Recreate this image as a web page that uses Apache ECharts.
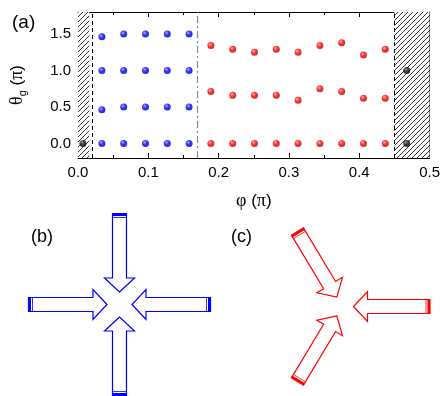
<!DOCTYPE html>
<html>
<head>
<meta charset="utf-8">
<script src="https://cdn.jsdelivr.net/npm/echarts@6/dist/echarts.min.js"></script>
<style>
html, body { margin: 0; padding: 0; background: #fff; }
#chart { width: 443px; height: 396px; }
</style>
</head>
<body>
<div id="chart"></div>
<script>
// panel (a): phi positions (units of pi)
const blueX = [0.034, 0.065, 0.096, 0.127, 0.158];
const redX = [0.189, 0.22, 0.251, 0.282, 0.313, 0.344, 0.375, 0.406, 0.437];
// theta_g rows (units of pi)
const blueRows = [
  [1.46, 1.5, 1.5, 1.5, 1.5],
  [1.0, 1.0, 1.0, 1.0, 1.0],
  [0.46, 0.5, 0.5, 0.5, 0.5],
  [0.0, 0.0, 0.0, 0.0, 0.0]
];
const redRows = [
  [1.34, 1.29, 1.25, 1.29, 1.25, 1.34, 1.38, 1.21, 1.29],
  [0.71, 0.66, 0.66, 0.66, 0.59, 0.75, 0.71, 0.62, 0.62],
  [0.0, 0.0, 0.0, 0.0, 0.0, 0.0, 0.0, 0.0, 0.0]
];
const blackX = [0.007, 0.4675, 0.4675];
const blackY = [0.0, 0.0, 1.0];

// excluded (hatched) ranges and boundary lines
const hatchRanges = [[0, 0.016], [0.45, 0.5]];
const dashedAt = [0.016, 0.45];
const dashDotAt = 0.175;

// tick labels
const yTicks = [0, 0.5, 1.0, 1.5];
const yMinor = [0.25, 0.75, 1.25, 1.75];

// panels (b) and (c): directions the arrows come from (degrees, screen)
const bArrowDirs = [-90, 180, 0, 90];
const cArrowDirs = [0, -121, 121];

function rows(xs, ys) {
  const out = [];
  ys.forEach(r => r.forEach((y, i) => out.push([xs[i], y])));
  return out;
}

function ball(c0, c1, c2) {
  return {
    type: 'radial', x: 0.38, y: 0.35, r: 0.7,
    colorStops: [{ offset: 0, color: c0 }, { offset: 0.45, color: c1 }, { offset: 1, color: c2 }]
  };
}

function hatchCanvas() {
  const s = 5, c = document.createElement('canvas');
  c.width = s; c.height = s;
  const g = c.getContext('2d');
  g.fillStyle = '#fff'; g.fillRect(0, 0, s, s);
  g.strokeStyle = '#000'; g.lineWidth = 0.8;
  g.beginPath();
  g.moveTo(-1, s + 1); g.lineTo(s + 1, -1);
  g.moveTo(-1, 1); g.lineTo(1, -1);
  g.moveTo(s - 1, s + 1); g.lineTo(s + 1, s - 1);
  g.stroke();
  return c;
}

function arrow(cx, cy, deg, color, tip, tail) {
  const a = deg * Math.PI / 180, ux = Math.cos(a), uy = Math.sin(a), vx = -uy, vy = ux;
  const P = (s, w) => [cx + ux * s + vx * w, cy + uy * s + vy * w];
  const head = tip + 14;
  return [
    { type: 'polygon', shape: { points: [P(tip, 0), P(head, 15), P(head, 7), P(tail, 7), P(tail, -7), P(head, -7), P(head, -15)] },
      style: { fill: '#fff', stroke: color, lineWidth: 1.2 } },
    { type: 'polygon', shape: { points: [P(tail, 7.5), P(tail, -7.5), P(tail - 2.5, -7.5), P(tail - 2.5, 7.5)] },
      style: { fill: color } },
    { type: 'polyline', shape: { points: [P(tail - 4, 7), P(tail - 4, -7)] },
      style: { stroke: color, lineWidth: 0.8 } }
  ];
}

const font = 'Liberation Sans';
const serif = 'Liberation Serif';
const hatch = { image: hatchCanvas(), repeat: 'repeat' };

let graphics = [
  { type: 'text', left: 12, top: 13, style: { text: '(a)', font: '19px ' + font, fill: '#000' } },
  { type: 'text', left: 31, top: 228, style: { text: '(b)', font: '18px ' + font, fill: '#000' } },
  { type: 'text', left: 231, top: 228, style: { text: '(c)', font: '18px ' + font, fill: '#000' } }
];
bArrowDirs.forEach(d => { graphics = graphics.concat(arrow(119.5, 304.5, d, '#0000ff', 12.5, 91)); });
cArrowDirs.forEach(d => { graphics = graphics.concat(arrow(342.5, 306.5, d, '#ff0000', 11, 87.5)); });

const xBase = {
  type: 'value', min: 0, max: 0.5, interval: 0.1,
  axisLine: { show: true, onZero: false, lineStyle: { color: '#000', width: 1 } },
  axisTick: { show: true, inside: true, length: 5, lineStyle: { color: '#000' } },
  minorTick: { show: true, splitNumber: 2, length: 3, lineStyle: { color: '#000' } },
  splitLine: { show: false }
};
function yAxisOf(pos, ticks, len, labels) {
  return {
    type: 'value', position: pos, min: -0.2, max: 1.8,
    axisLine: { show: labels !== null, onZero: false, lineStyle: { color: '#000', width: 1 } },
    axisTick: { show: true, inside: true, length: len, customValues: ticks, lineStyle: { color: '#000' } },
    axisLabel: labels ? { show: true, customValues: labels, formatter: v => v.toFixed(1), color: '#000', fontFamily: font, fontSize: 15, margin: 7 } : { show: false },
    splitLine: { show: false }
  };
}

const nameRich = {
  s: { fontFamily: font, fontSize: 17, lineHeight: 22, color: '#000' },
  g: { fontFamily: serif, fontSize: 18, lineHeight: 22, color: '#000' },
  b: { fontFamily: font, fontSize: 11, lineHeight: 11, verticalAlign: 'bottom', color: '#000' }
};

const option = {
  animation: false,
  backgroundColor: '#fff',
  grid: { left: 76, right: 13, top: 12, bottom: 238 },
  xAxis: [
    Object.assign({}, xBase, {
      position: 'bottom',
      name: '{g|φ}{s| (}{g|π}{s|)}', nameLocation: 'middle', nameGap: 32,
      nameTextStyle: { color: '#000', rich: nameRich },
      axisLabel: { color: '#000', fontFamily: font, fontSize: 15, margin: 7, formatter: v => v.toFixed(1) }
    }),
    Object.assign({}, xBase, { position: 'top', axisLabel: { show: false } })
  ],
  yAxis: [
    Object.assign(yAxisOf('left', yTicks, 5, yTicks), {
      name: '{g|θ}{b|g}{s| (}{g|π}{s|)}', nameLocation: 'middle', nameGap: 50, nameRotate: 90,
      nameTextStyle: { color: '#000', rich: nameRich }
    }),
    yAxisOf('left', yMinor, 3, null),
    yAxisOf('right', yTicks, 5, false),
    yAxisOf('right', yMinor, 3, null)
  ],
  series: [
    {
      type: 'scatter', data: [], z: 1, silent: true,
      markArea: {
        silent: true,
        itemStyle: { color: hatch, borderWidth: 0 },
        data: hatchRanges.map(r => [{ xAxis: r[0] }, { xAxis: r[1] }])
      },
      markLine: {
        silent: true, symbol: ['none', 'none'], label: { show: false },
        data: dashedAt.map(x => ({ xAxis: x, lineStyle: { color: '#000', type: [4, 3], width: 1 } }))
          .concat([{ xAxis: dashDotAt, lineStyle: { color: '#888', type: [7, 3, 2, 3], width: 1.2 } }])
      }
    },
    { type: 'scatter', z: 3, symbolSize: 7, data: rows(blueX, blueRows),
      itemStyle: { color: ball('#9a9aff', '#0000ff', '#0000b0') } },
    { type: 'scatter', z: 3, symbolSize: 7, data: rows(redX, redRows),
      itemStyle: { color: ball('#ffa0a0', '#ff0000', '#b00000') } },
    { type: 'scatter', z: 3, symbolSize: 7, data: blackX.map((x, i) => [x, blackY[i]]),
      itemStyle: { color: ball('#888', '#111', '#000') } }
  ],
  graphic: graphics
};

const myChart = echarts.init(document.getElementById('chart'));
myChart.setOption(option);
</script>
</body>
</html>
